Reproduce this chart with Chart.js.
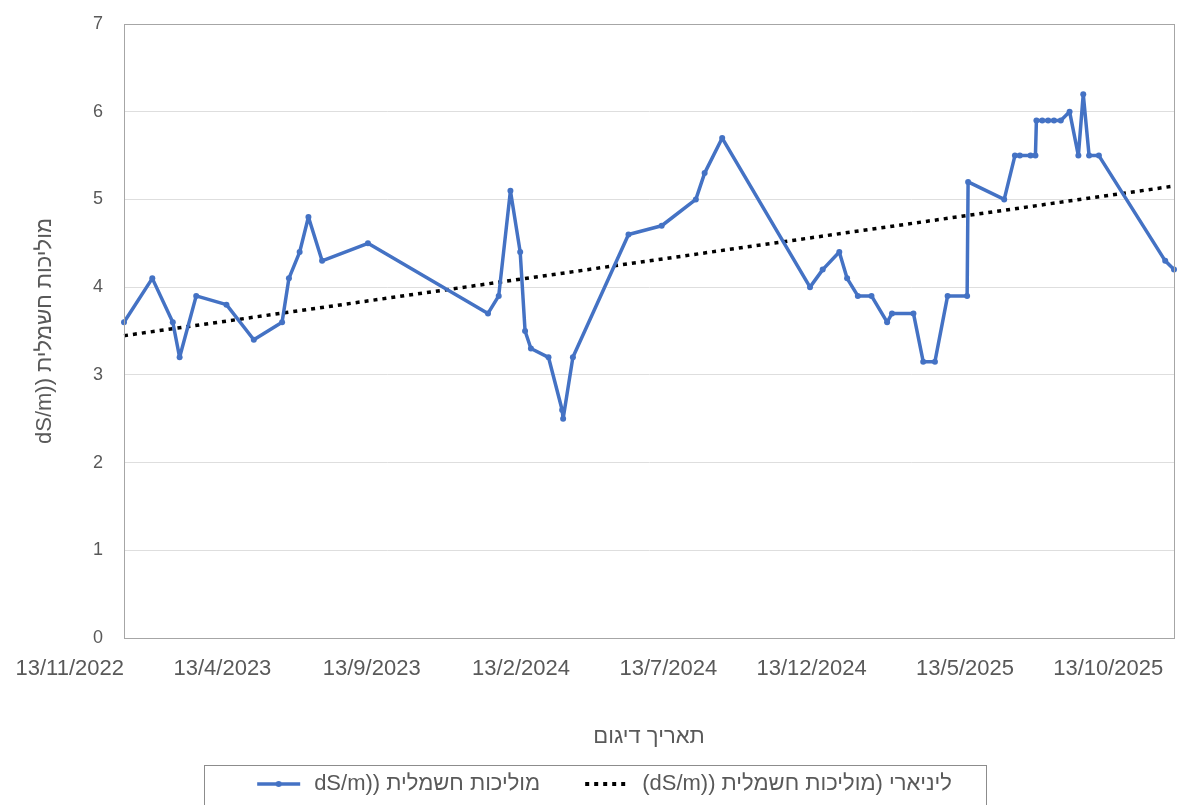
<!DOCTYPE html>
<html lang="he">
<head>
<meta charset="utf-8">
<script src="https://cdn.jsdelivr.net/npm/chart.js@4.4.1/dist/chart.umd.min.js"></script>
<style>
  html, body { margin: 0; padding: 0; background: #fff; }
  #chart { display: block; direction: rtl; }
</style>
</head>
<body>
<canvas id="chart" width="1177" height="805"></canvas>
<script>
// sampling dates (D/M/YYYY) and electrical conductivity readings
const sampleDates = [
  '13/11/2022', '12/12/2022', '2/1/2023', '9/1/2023', '26/1/2023', '26/2/2023', '26/3/2023',
  '24/4/2023', '1/5/2023', '12/5/2023', '21/5/2023', '4/6/2023', '21/7/2023', '21/11/2023',
  '2/12/2023', '14/12/2023', '24/12/2023', '29/12/2023', '4/1/2024', '22/1/2024', '5/2/2024',
  '6/2/2024', '16/2/2024', '13/4/2024', '17/5/2024', '21/6/2024', '30/6/2024', '18/7/2024',
  '16/10/2024', '29/10/2024', '15/11/2024', '23/11/2024', '4/12/2024', '18/12/2024', '3/1/2025',
  '8/1/2025', '30/1/2025', '9/2/2025', '21/2/2025', '6/3/2025', '26/3/2025', '27/3/2025',
  '3/5/2025', '14/5/2025', '19/5/2025', '30/5/2025', '4/6/2025', '5/6/2025', '11/6/2025',
  '17/6/2025', '23/6/2025', '30/6/2025', '9/7/2025', '18/7/2025', '23/7/2025', '29/7/2025',
  '8/8/2025', '15/10/2025', '24/10/2025'
];
const conductivity = [
  3.6, 4.1, 3.6, 3.2, 3.9, 3.8, 3.4,
  3.6, 4.1, 4.4, 4.8, 4.3, 4.5, 3.7,
  3.9, 5.1, 4.4, 3.5, 3.3, 3.2, 2.6,
  2.5, 3.2, 4.6, 4.7, 5.0, 5.3, 5.7,
  4.0, 4.2, 4.4, 4.1, 3.9, 3.9, 3.6,
  3.7, 3.7, 3.15, 3.15, 3.9, 3.9, 5.2,
  5.0, 5.5, 5.5, 5.5, 5.5, 5.9, 5.9,
  5.9, 5.9, 5.9, 6.0, 5.5, 6.2, 5.5,
  5.5, 4.3, 4.2
];
const tickLabels = ['13/11/2022', '13/4/2023', '13/9/2023', '13/2/2024', '13/7/2024', '13/12/2024', '13/5/2025', '13/10/2025'];

const seriesName = 'מוליכות חשמלית ((dS/m';
const trendName = 'ליניארי (' + seriesName + ')';
const xTitle = 'תאריך דיגום';

const BLUE = '#4472C4';
const GREY = '#595959';
const FONT = "'Liberation Sans', Arial, sans-serif";

// days since the first sample
function dayOf(s) {
  const [d, m, y] = s.split('/').map(Number);
  const [d0, m0, y0] = sampleDates[0].split('/').map(Number);
  return (Date.UTC(y, m - 1, d) - Date.UTC(y0, m0 - 1, d0)) / 86400000;
}

const xs = sampleDates.map(dayOf);
const points = xs.map((x, i) => ({ x, y: conductivity[i] }));

// least squares trend, like Excel's linear trendline
const mx = xs.reduce((a, b) => a + b, 0) / xs.length;
const my = conductivity.reduce((a, b) => a + b, 0) / conductivity.length;
let sxy = 0, sxx = 0;
xs.forEach((x, i) => { sxy += (x - mx) * (conductivity[i] - my); sxx += (x - mx) * (x - mx); });
const slope = sxy / sxx, intercept = my - slope * mx;
const xMax = xs[xs.length - 1];
const trend = [0, xMax].map(x => ({ x, y: intercept + slope * x }));

function legendIcon(draw) {
  const c = document.createElement('canvas');
  c.width = 80; c.height = 22;
  draw(c.getContext('2d'));
  return c;
}
const seriesIcon = legendIcon(g => {
  g.strokeStyle = BLUE; g.lineWidth = 3.5;
  g.beginPath(); g.moveTo(34, 11); g.lineTo(77, 11); g.stroke();
  g.fillStyle = BLUE; g.beginPath(); g.arc(55.5, 11, 3, 0, Math.PI * 2); g.fill();
});
const trendIcon = legendIcon(g => {
  g.fillStyle = '#000';
  for (let i = 0; i < 5; i++) g.fillRect(34 + i * 9, 9, 4, 4);
});

const frame = {
  id: 'frame',
  beforeDraw(chart) {
    const ctx = chart.ctx;
    ctx.save(); ctx.fillStyle = '#fff'; ctx.fillRect(0, 0, chart.width, chart.height); ctx.restore();
  },
  afterDraw(chart) {
    const { ctx, chartArea: a, legend } = chart;
    ctx.save();
    ctx.strokeStyle = '#a6a6a6'; ctx.lineWidth = 1;
    ctx.strokeRect(Math.round(a.left) + 0.5, Math.round(a.top) + 0.5, Math.round(a.right - a.left), Math.round(a.bottom - a.top));
    const hb = legend.legendHitBoxes;
    const last = hb[hb.length - 1];
    const left = Math.round(hb[0].left - 19), right = Math.round(last.left + last.width + 34);
    const top = Math.round(hb[0].top - 8);
    ctx.strokeStyle = '#8c8c8c';
    ctx.strokeRect(left + 0.5, top + 0.5, right - left, chart.height);
    ctx.restore();
  }
};

new Chart(document.getElementById('chart'), {
  type: 'line',
  data: {
    datasets: [
      { label: seriesName, data: points, legendIcon: seriesIcon, borderColor: BLUE, backgroundColor: BLUE,
        borderWidth: 3.5, borderJoinStyle: 'round', pointRadius: 3, pointHoverRadius: 3, pointBorderWidth: 0,
        tension: 0, clip: 8 },
      { label: trendName, data: trend, legendIcon: trendIcon, borderColor: '#000', borderWidth: 3.5,
        borderDash: [4, 5], pointRadius: 0, tension: 0, clip: 8 }
    ]
  },
  options: {
    responsive: false,
    animation: false,
    layout: { padding: { left: 0, right: 2, top: 24, bottom: 0 } },
    plugins: {
      tooltip: { enabled: false },
      legend: {
        position: 'bottom',
        labels: {
          usePointStyle: true, pointStyleWidth: 80, padding: 11, color: GREY,
          font: { family: FONT, size: 22 },
          generateLabels: chart => chart.data.datasets.map((ds, i) => ({
            text: ds.label, pointStyle: ds.legendIcon, datasetIndex: i, hidden: false,
            fillStyle: 'transparent', strokeStyle: 'transparent', lineWidth: 0, fontColor: GREY
          }))
        }
      }
    },
    scales: {
      x: {
        type: 'linear', min: 0, max: xMax,
        afterBuildTicks: scale => { scale.ticks = tickLabels.map(s => ({ value: dayOf(s) })); },
        afterFit: scale => { scale.height = 124; scale.paddingLeft = 0; scale.paddingRight = 0; },
        ticks: { callback: (v, i) => tickLabels[i], align: 'end', autoSkip: false, maxRotation: 0,
                 color: GREY, font: { family: FONT, size: 22 }, padding: 10 },
        grid: { display: false },
        border: { display: true, color: '#a6a6a6' },
        title: { display: true, text: xTitle, color: GREY, font: { family: FONT, size: 22 }, padding: { top: 0, bottom: 12 } }
      },
      y: {
        min: 0, max: 7,
        afterFit: scale => { scale.width = 124; scale.paddingTop = 0; scale.paddingBottom = 0; },
        ticks: { stepSize: 1, color: GREY, font: { family: FONT, size: 18 }, padding: 21 },
        grid: { color: '#dedede', drawTicks: false },
        border: { display: true, color: '#a6a6a6' },
        title: { display: true, text: seriesName, color: GREY, font: { family: FONT, size: 22 }, padding: { top: 32, bottom: 0 } }
      }
    }
  },
  plugins: [frame]
});
</script>
</body>
</html>
